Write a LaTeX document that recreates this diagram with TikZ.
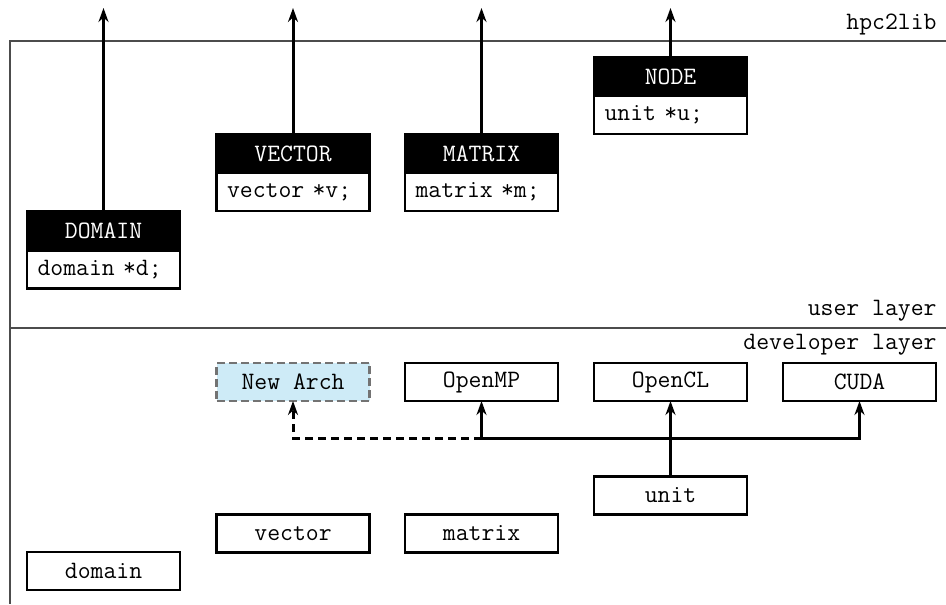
\documentclass[tikz,border=0pt]{standalone}
\usepackage{fontspec}
\usetikzlibrary{positioning}
\usetikzlibrary{arrows.meta}
\definecolor{archblue}{RGB}{206,235,247}
\tikzset{
    frame/.style = {draw=black!70, line width=0.8pt},
    head/.style = {rectangle, draw=black, fill=black, text=white, line width=1.2pt, minimum width=76.5pt, minimum height=19.5pt, inner sep=0pt, outer sep=0pt},
    body/.style = {rectangle, draw=black, fill=white, line width=1.2pt, text width=66pt, inner xsep=5.25pt, inner ysep=0pt, minimum height=19pt, align=left, outer sep=0pt},
    impl/.style = {rectangle, draw=black, line width=1.2pt, minimum width=76.5pt, minimum height=19pt, inner sep=0pt, outer sep=0pt},
    newarch/.style = {impl, draw=black!55, fill=archblue, dash pattern=on 4pt off 2pt},
    layer/.style = {anchor=east, inner sep=0pt},
    edgen/.style = {-{Stealth[length=7pt,width=5pt]}, line width=1.5pt},
    edged/.style = {edgen, dash pattern=on 4pt off 2.5pt}, % not yet there
}

\begin{document}
\begin{tikzpicture}[x=0.5pt, y=-0.5pt, font=\ttfamily\fontsize{12.5}{14}\selectfont]
\useasboundingbox (0,0) rectangle (946,604);
\draw[frame] (946,41) -- (10,41) -- (10,604);
\draw[frame] (10,328) -- (946,328);
\node[layer] at (937,24) (lib) {hpc2lib};
\node[layer] at (937,311) (user) {user layer};
\node[layer] at (937,345) (dev) {developer layer};
%
\node[head] at (103.5,231) (hdomain) {DOMAIN};
\node[body, below=0pt of hdomain] (bdomain) {domain *d;};
\node[head] at (293,153.5) (hvector) {VECTOR};
\node[body, below=0pt of hvector] (bvector) {vector *v;};
\node[head] at (481.5,153.5) (hmatrix) {MATRIX};
\node[body, below=0pt of hmatrix] (bmatrix) {matrix *m;};
\node[head] at (670.5,76.5) (hnode) {NODE};
\node[body, below=0pt of hnode] (bnode) {unit *u;};
%
\coordinate (tdomain) at (103.5,8);
\coordinate (tvector) at (293,8);
\coordinate (tmatrix) at (481.5,8);
\coordinate (tnode) at (670.5,8);
\draw[edgen] (hdomain.north) -- (tdomain);
\draw[edgen] (hvector.north) -- (tvector);
\draw[edgen] (hmatrix.north) -- (tmatrix);
\draw[edgen] (hnode.north) -- (tnode);
%
\node[newarch] at (293,382) (arch) {New Arch};
\node[impl] at (481.5,382) (openmp) {OpenMP};
\node[impl] at (670.5,382) (opencl) {OpenCL};
\node[impl] at (859.5,382) (cuda) {CUDA};
\node[impl] at (670.5,495.5) (unit) {unit};
\node[impl] at (293,533.5) (vector) {vector};
\node[impl] at (481.5,533.5) (matrix) {matrix};
\node[impl] at (103.5,571) (domain) {domain};
%
\coordinate (bus) at (0,438);
\draw[edged] (openmp.south |- bus) -| (arch.south);
\draw[edgen] (cuda.south |- bus) -| (openmp.south);
\draw[edgen] (openmp.south |- bus) -| (cuda.south);
\draw[edgen] (unit.north) -- (opencl.south);
\end{tikzpicture}
\end{document}
